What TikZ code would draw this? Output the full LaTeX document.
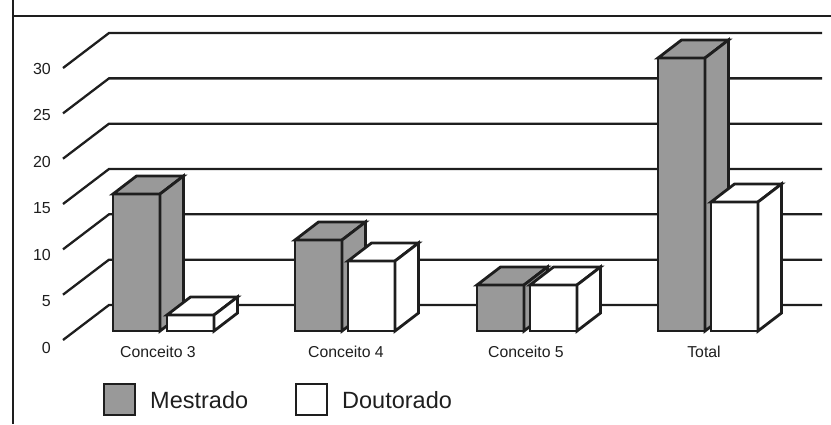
\documentclass[tikz,border=0pt]{standalone}
\usepackage{fontspec}
\setmainfont{Liberation Sans}
\definecolor{bargray}{RGB}{153,153,153}
\definecolor{ink}{RGB}{30,30,30}
\tikzset{
  gridline/.style={draw=ink, line width=2.3pt},
  frameline/.style={draw=ink, line width=2.5pt},
  barline/.style={draw=ink, line width=2.8pt, line join=miter},
  axislabel/.style={anchor=base east, inner sep=0pt, font=\fontsize{16}{18}\selectfont, text=ink},
  catlabel/.style={anchor=base, inner sep=0pt, font=\fontsize{15.8}{18}\selectfont, text=ink},
  legendtext/.style={anchor=base west, inner sep=0pt, font=\fontsize{23.5}{28}\selectfont, text=ink},
  legendbox/.style={draw=ink, line width=2.8pt}
}
\newcommand\mybar[4]{%
  \pgfmathsetmacro\xr{#1+47}%
  \pgfmathsetmacro\xrb{#1+47+23.5}%
  \pgfmathsetmacro\tb{#2-18}%
  \pgfmathsetmacro\bb{#3-18}%
  \filldraw[barline, fill=#4] (#1,#2) rectangle (\xr,#3);
  \filldraw[barline, fill=#4] (#1,#2) -- (#1+23.5,\tb) -- (\xrb,\tb) -- (\xr,#2) -- cycle;
  \filldraw[barline, fill=#4] (\xr,#2) -- (\xrb,\tb) -- (\xrb,\bb) -- (\xr,#3) -- cycle;
}
\begin{document}
\begin{tikzpicture}[x=1pt, y=-1pt]
\useasboundingbox (0,0) rectangle (831,424);
% frame
\draw[frameline] (13,0) -- (13,424);
\draw[frameline] (13,16) -- (831,16);
% grid
\foreach \k/\lab in {0/0,1/5,2/10,3/15,4/20,5/25,6/30}{
  \pgfmathsetmacro\yb{305-\k*45.33}
  \pgfmathsetmacro\yf{\yb+35}
  \coordinate (gf\k) at (63,\yf);
  \coordinate (gb\k) at (109,\yb);
  \coordinate (ge\k) at (822,\yb);
  \draw[gridline] (gf\k) -- (gb\k) -- (ge\k);
  \pgfmathsetmacro\yl{353-\k*46.5}
  \node[axislabel] (yl\k) at (51,\yl) {\lab};
}
% bars
\mybar{113}{194}{331}{bargray}
\mybar{167}{315}{331}{white}
\mybar{295}{240}{331}{bargray}
\mybar{348}{261}{331}{white}
\mybar{477}{285}{331}{bargray}
\mybar{530}{285}{331}{white}
\mybar{658}{58}{331}{bargray}
\mybar{711}{202}{331}{white}
% category labels
\node[catlabel] (c3) at (158,357) {Conceito 3};
\node[catlabel] (c4) at (346,357) {Conceito 4};
\node[catlabel] (c5) at (526,357) {Conceito 5};
\node[catlabel] (ct) at (704,357) {Total};
% legend
\draw[legendbox, fill=bargray] (104,384) rectangle (135,415);
\node[legendtext] (lm) at (150,408) {Mestrado};
\draw[legendbox, fill=white] (296,384) rectangle (327,415);
\node[legendtext] (ld) at (342,408) {Doutorado};
\end{tikzpicture}
\end{document}
